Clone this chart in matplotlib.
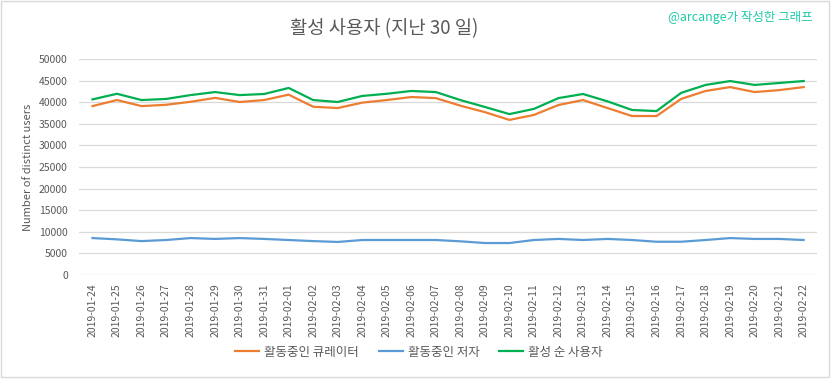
import numpy as np
import matplotlib
matplotlib.use('Agg')
import matplotlib.pyplot as plt
from matplotlib.patches import Rectangle

plt.rcParams['font.family'] = ['Noto Sans CJK KR', 'DejaVu Sans']

dates = ['2019-01-24', '2019-01-25', '2019-01-26', '2019-01-27', '2019-01-28',
         '2019-01-29', '2019-01-30', '2019-01-31', '2019-02-01', '2019-02-02',
         '2019-02-03', '2019-02-04', '2019-02-05', '2019-02-06', '2019-02-07',
         '2019-02-08', '2019-02-09', '2019-02-10', '2019-02-11', '2019-02-12',
         '2019-02-13', '2019-02-14', '2019-02-15', '2019-02-16', '2019-02-17',
         '2019-02-18', '2019-02-19', '2019-02-20', '2019-02-21', '2019-02-22']
curators = [39100, 40500, 39100, 39400, 40100, 41000, 40050, 40500, 41750, 38950,
            38650, 39900, 40500, 41200, 40950, 39200, 37700, 35900, 37050, 39350,
            40500, 38650, 36800, 36800, 40750, 42600, 43500, 42350, 42800, 43500]
authors = [8550, 8250, 7850, 8100, 8550, 8350, 8550, 8350, 8100, 7850,
           7650, 8100, 8100, 8100, 8100, 7800, 7400, 7400, 8100, 8350,
           8100, 8350, 8100, 7700, 7700, 8100, 8550, 8350, 8350, 8100]
active = [40650, 41950, 40500, 40750, 41650, 42350, 41650, 41900, 43300, 40500,
          40050, 41450, 41950, 42600, 42350, 40500, 38900, 37250, 38450, 40950,
          41900, 40200, 38200, 37950, 42150, 44000, 44900, 44000, 44450, 44900]
labels = ['활동중인 큐레이터', '활동중인 저자', '활성 순 사용자']
colors = ['#ED7D31', '#5B9BD5', '#00B050']

gray = '#595959'
fig = plt.figure(figsize=(8.33, 3.79), dpi=100)
fig.patches.append(Rectangle((0.001, 0.006), 0.994, 0.992, transform=fig.transFigure,
                             fill=False, edgecolor='#D9D9D9', linewidth=1))
ax = fig.add_axes([0.0948, 0.2744, 0.8862, 0.5699])

x = np.arange(len(dates))
for series, lab, c in zip([curators, authors, active], labels, colors):
    ax.plot(x, series, color=c, linewidth=1.6, label=lab)

ax.set_ylim(0, 50000)
ax.set_yticks(np.arange(0, 50001, 5000))
ax.set_xlim(-0.55, len(dates) - 0.45)
ax.set_xticks(x)
ax.set_xticklabels(dates, rotation=90)
ax.tick_params(axis='both', length=0, labelsize=7.5, labelcolor=gray)
ax.tick_params(axis='x', pad=6)
ax.tick_params(axis='y', pad=8)
ax.grid(axis='y', color='#D9D9D9', linewidth=0.9)
ax.set_axisbelow(True)
for s in ax.spines.values():
    s.set_visible(False)
ax.set_ylabel('Number of distinct users', fontsize=8, color=gray, labelpad=4)

fig.text(0.461, 0.925, '활성 사용자 (지난 30 일)', fontsize=13.5, color=gray,
         ha='center', va='center')
fig.text(0.975, 0.955, '@arcange가 작성한 그래프', fontsize=9, color='#1FC8A8',
         ha='right', va='center')

fig.legend(loc='center', bbox_to_anchor=(0.503, 0.071), ncol=3, frameon=False,
           fontsize=9, labelcolor=gray, handlelength=1.9, columnspacing=1.6,
           handletextpad=0.4)

fig.savefig('out.png', dpi=100)
